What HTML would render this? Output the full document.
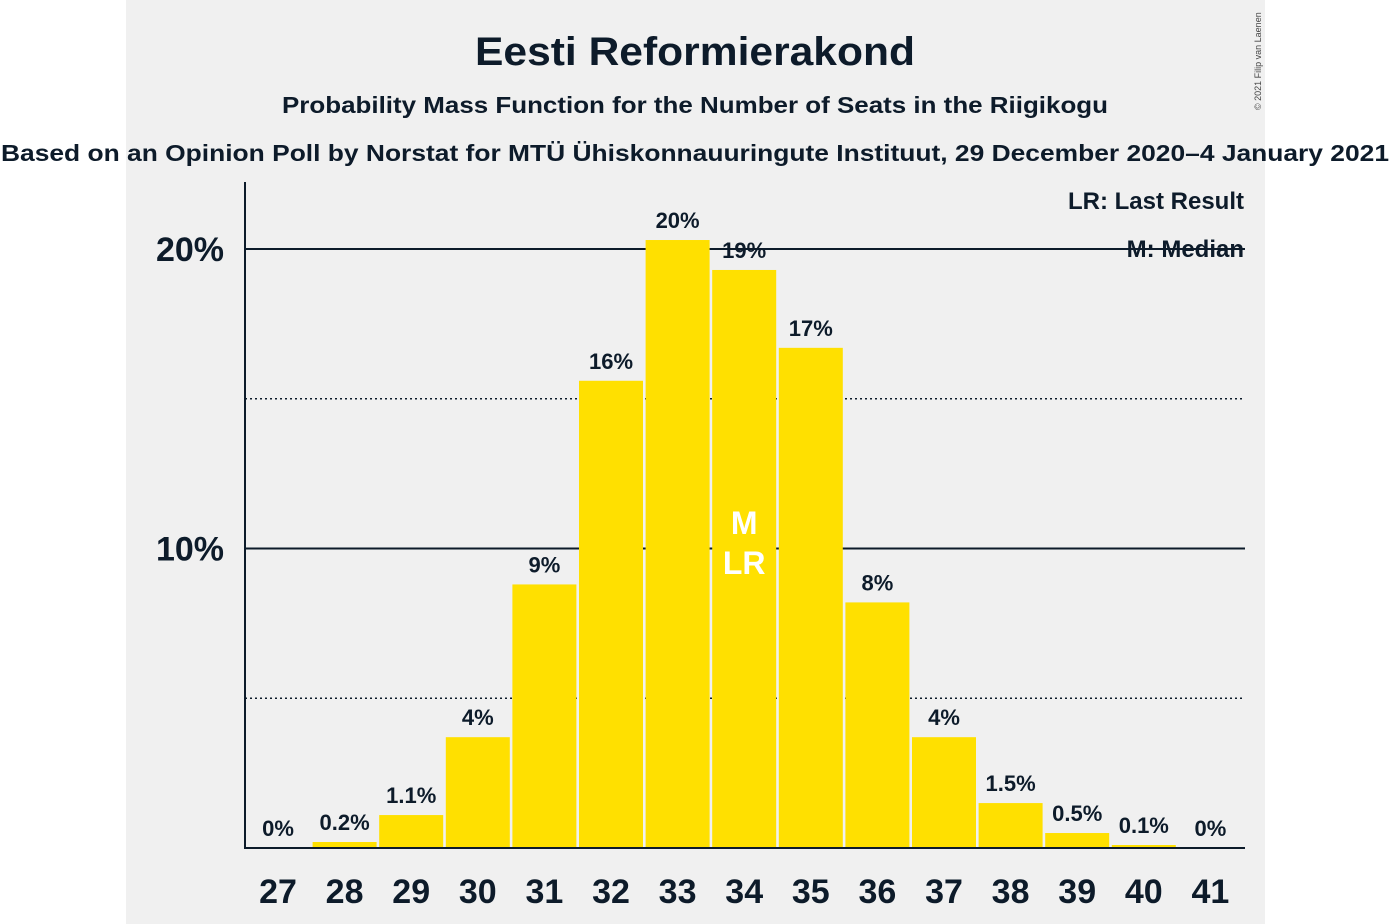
<!DOCTYPE html>
<html><head><meta charset="utf-8"><style>
body{margin:0;background:#fff}
svg{display:block;font-family:"Liberation Sans",sans-serif}
</style></head><body>
<svg width="1391" height="924" viewBox="0 0 1391 924">
<rect x="126" y="0" width="1139" height="924" fill="#f0f0f0"/>
<text x="695" y="65" text-anchor="middle" font-size="40" font-weight="bold" fill="#0d1b2a" textLength="440" lengthAdjust="spacingAndGlyphs">Eesti Reformierakond</text>
<text x="695" y="113" text-anchor="middle" font-size="23" font-weight="bold" fill="#0d1b2a" textLength="826" lengthAdjust="spacingAndGlyphs">Probability Mass Function for the Number of Seats in the Riigikogu</text>
<text x="695" y="161" text-anchor="middle" font-size="23" font-weight="bold" fill="#0d1b2a" textLength="1388" lengthAdjust="spacingAndGlyphs">Based on an Opinion Poll by Norstat for MTÜ Ühiskonnauuringute Instituut, 29 December 2020–4 January 2021</text>
<text transform="translate(1261,110) rotate(-90)" font-size="9" fill="#444">© 2021 Filip van Laenen</text>
<g id="grid"></g>
<g id="bars"></g>
<line x1="245" y1="182" x2="245" y2="849" stroke="#0d1b2a" stroke-width="2"/>
<line x1="244" y1="848" x2="1245" y2="848" stroke="#0d1b2a" stroke-width="2"/>
<text x="1244" y="209" text-anchor="end" font-size="24" font-weight="bold" fill="#0d1b2a">LR: Last Result</text>
<text x="1244" y="257" text-anchor="end" font-size="24" font-weight="bold" fill="#0d1b2a">M: Median</text>
</svg>
<script>
const seats=[27,28,29,30,31,32,33,34,35,36,37,38,39,40,41];
const probs=[0,0.2,1.1,3.7,8.8,15.6,20.3,19.3,16.7,8.2,3.7,1.5,0.5,0.1,0];
const labels=["0%","0.2%","1.1%","4%","9%","16%","20%","19%","17%","8%","4%","1.5%","0.5%","0.1%","0%"];
const yTicks=[10,20];
const yDotted=[5,15];
const medianSeat=34, lastResultSeat=34;
const NS="http://www.w3.org/2000/svg";
const y=v=>848-v*29.95;
const xc=s=>278+(s-27)*66.6;
const svg=document.querySelector('svg');
const grid=document.getElementById('grid'), bars=document.getElementById('bars');
function mk(t,a,p){const e=document.createElementNS(NS,t);for(const k in a)e.setAttribute(k,a[k]);p.appendChild(e);return e;}
yDotted.forEach(v=>{const l=mk('line',{x1:245,x2:1245,y1:y(v),y2:y(v),stroke:'#0d1b2a','stroke-width':1.5,'stroke-dasharray':'2,3'},grid);

});
yTicks.forEach(v=>{const l=mk('line',{x1:245,x2:1245,y1:y(v),y2:y(v),stroke:'#0d1b2a','stroke-width':2},grid);


const t=mk('text',{x:224,y:y(v)+12,'text-anchor':'end','font-size':34,'font-weight':'bold',fill:'#0d1b2a'},grid);t.textContent=v+'%';

});
seats.forEach((s,i)=>{const p=probs[i];
if(p>0){const r=mk('rect',{x:xc(s)-32,y:y(p),width:64,height:848-y(p),fill:'#ffe000'},bars);

}
const t=mk('text',{x:xc(s),y:y(p)-12,'text-anchor':'middle','font-size':22,'font-weight':'bold',fill:'#0d1b2a'},bars);t.textContent=labels[i];


const xl=mk('text',{x:xc(s),y:903,'text-anchor':'middle','font-size':34,'font-weight':'bold',fill:'#0d1b2a'},bars);xl.textContent=s;


if(s===medianSeat){const m=mk('text',{x:xc(s),y:534,'text-anchor':'middle','font-size':32,'font-weight':'bold',fill:'#fff'},bars);m.textContent='M';

}
if(s===lastResultSeat){const m=mk('text',{x:xc(s),y:574,'text-anchor':'middle','font-size':32,'font-weight':'bold',fill:'#fff'},bars);m.textContent='LR';

}
});
</script>
</body></html>
